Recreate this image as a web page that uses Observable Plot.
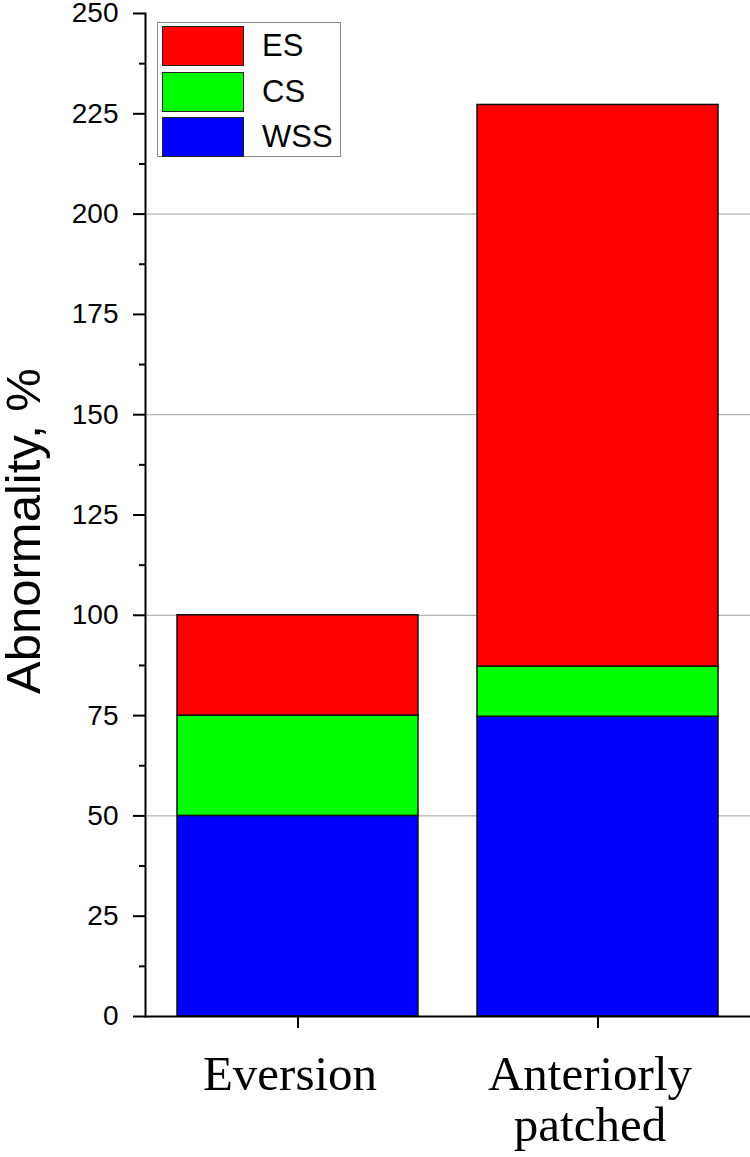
<!DOCTYPE html>
<html>
<head>
<meta charset="utf-8">
<script src="https://cdn.jsdelivr.net/npm/d3@7"></script>
<script src="https://cdn.jsdelivr.net/npm/@observablehq/plot@0.6"></script>
<style>
  html, body { margin: 0; padding: 0; background: #fff; }
  #wrap { position: relative; width: 750px; height: 1157px; font-family: "Liberation Sans", Arial, sans-serif; }
  #legend { position: absolute; left: 157px; top: 22px; width: 184px; height: 135px; border: 1px solid #888; background: #fff; box-sizing: border-box; }
  .item { position: absolute; left: 4px; width: 82px; height: 41px; }
  .sw { position: absolute; left: 0; top: 0; width: 82px; height: 40px; border: 1.5px solid #222; box-sizing: border-box; }
  .lab { position: absolute; left: 100px; top: 0; font-size: 31px; line-height: 40px; color: #000; }
</style>
</head>
<body>
<div id="wrap"><div id="chart"></div><div id="legend"></div></div>
<script>
const groups = ["Eversion", "Anteriorly\npatched"];
const seriesNames = ["WSS", "CS", "ES"];
const seriesColors = ["#0000ff", "#00ff00", "#ff0000"];
const wssValues = [50, 74.7];
const csValues = [25, 12.5];
const esValues = [25, 140];
const yTicks = [0, 25, 50, 75, 100, 125, 150, 175, 200, 225, 250];
const gridValues = [50, 100, 150, 200];

const valuesBySeries = [wssValues, csValues, esValues];
const data = [];
seriesNames.forEach((s, i) => groups.forEach((g, j) => data.push({group: g, series: s, value: valuesBySeries[i][j]})));
const minorTicks = yTicks.slice(0, -1).map(t => t + 12.5);

const chart = Plot.plot({
  width: 750,
  height: 1157,
  marginLeft: 145,
  marginRight: 0,
  marginTop: 13,
  marginBottom: 141,
  style: {fontFamily: "'Liberation Sans', Arial, sans-serif", color: "#000", background: "#fff"},
  x: {domain: groups, paddingInner: 0.196, paddingOuter: 0.103, align: 0.5, label: null},
  y: {domain: [0, 250], label: null},
  color: {domain: seriesNames, range: seriesColors},
  marks: [
    Plot.gridY(gridValues, {stroke: "#a0a0a0", strokeOpacity: 1, strokeWidth: 1}),
    Plot.barY(data, {x: "group", y: "value", fill: "series", stroke: "#111", strokeWidth: 1.5}),
    Plot.axisY(yTicks, {tickSize: 12, tickPadding: 15, fontSize: 28, strokeWidth: 2, label: null}),
    Plot.axisY(minorTicks, {tickSize: 6, strokeWidth: 2, text: null, label: null}),
    Plot.axisX({tickSize: 12, label: null, strokeWidth: 2, text: null}),
    Plot.axisX({tickSize: 0, tickPadding: 37, dx: -8, fontSize: 49, lineHeight: 1.05, fontFamily: "'Liberation Serif', 'Times New Roman', serif", label: null}),
    Plot.frame({anchor: "left", strokeWidth: 2}),
    Plot.frame({anchor: "bottom", strokeWidth: 2}),
    Plot.text(["Abnormality, %"], {frameAnchor: "left", dx: -106, dy: 16, rotate: -90, fontSize: 49, lineAnchor: "bottom", textAnchor: "middle"})
  ]
});
document.getElementById("chart").appendChild(chart);

const legend = document.getElementById("legend");
const legendOrder = [2, 1, 0];
legendOrder.forEach((idx, k) => {
  const it = document.createElement("div");
  it.className = "item";
  it.style.top = (3 + k * 45.5) + "px";
  const sw = document.createElement("div");
  sw.className = "sw";
  sw.style.background = seriesColors[idx];
  const lab = document.createElement("div");
  lab.className = "lab";
  lab.textContent = seriesNames[idx];
  it.appendChild(sw); it.appendChild(lab);
  legend.appendChild(it);
});
</script>
</body>
</html>
